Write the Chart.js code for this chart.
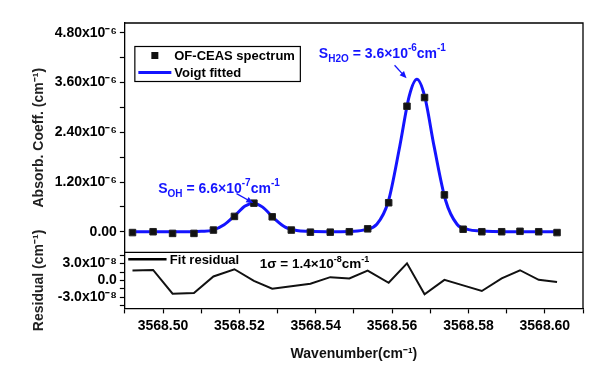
<!DOCTYPE html>
<html>
<head>
<meta charset="utf-8">
<script src="https://cdn.jsdelivr.net/npm/chart.js@4.4.1/dist/chart.umd.min.js"></script>
<style>
  html, body { margin: 0; padding: 0; background: #fff; }
  canvas { display: block; }
</style>
</head>
<body>
<canvas id="spectrumChart" width="600" height="368"></canvas>
<script>
// measured points (wavenumber in cm-1)
const wavenumbers = [3568.4920, 3568.4974, 3568.5025, 3568.5081, 3568.5132, 3568.5187, 3568.5238, 3568.5286,
  3568.5336, 3568.5386, 3568.5438, 3568.5488, 3568.5536, 3568.5591, 3568.5639, 3568.5685, 3568.5737, 3568.5786,
  3568.5835, 3568.5887, 3568.5935, 3568.5984, 3568.6032];
// OF-CEAS spectrum, absorption coeff. (cm-1)
const absorption = [-0.02e-6, 0.00e-6, -0.04e-6, -0.04e-6, 0.04e-6, 0.37e-6, 0.69e-6, 0.36e-6,
  0.04e-6, -0.01e-6, -0.01e-6, 0.00e-6, 0.07e-6, 0.70e-6, 3.03e-6, 3.24e-6, 0.89e-6, 0.06e-6,
  0.00e-6, 0.00e-6, 0.01e-6, 0.00e-6, -0.02e-6];
// fit residual (cm-1)
const residual = [1.76e-8, 1.87e-8, -2.36e-8, -2.24e-8, 0.71e-8, 2.00e-8, -0.10e-8, -1.48e-8,
  -1.06e-8, -0.60e-8, 0.58e-8, 0.35e-8, 1.76e-8, -0.42e-8, 3.05e-8, -2.47e-8, 0.10e-8, -0.88e-8,
  -1.89e-8, 0.35e-8, 1.82e-8, 0.10e-8, -0.30e-8];

// Voigt fitted curve
const fitWavenumbers = [3568.4920, 3568.5000, 3568.5080, 3568.5100, 3568.5130, 3568.5160, 3568.5190, 3568.5215,
  3568.5236, 3568.5260, 3568.5290, 3568.5320, 3568.5350, 3568.5380, 3568.5450, 3568.5500, 3568.5530, 3568.5560,
  3568.5590, 3568.5620, 3568.5645, 3568.5665, 3568.5685, 3568.5710, 3568.5740, 3568.5770, 3568.5800, 3568.5830,
  3568.5900, 3568.6032];
const fitValues = [0.00e-6, 0.00e-6, 0.00e-6, 0.01e-6, 0.04e-6, 0.17e-6, 0.41e-6, 0.62e-6,
  0.69e-6, 0.60e-6, 0.33e-6, 0.11e-6, 0.03e-6, 0.01e-6, 0.00e-6, 0.01e-6, 0.05e-6, 0.18e-6,
  0.73e-6, 2.06e-6, 3.28e-6, 3.68e-6, 3.28e-6, 2.06e-6, 0.76e-6, 0.18e-6, 0.05e-6, 0.02e-6,
  0.00e-6, 0.00e-6];

// ticks
const xTicks = [3568.49, 3568.50, 3568.51, 3568.52, 3568.53, 3568.54, 3568.55, 3568.56, 3568.57, 3568.58, 3568.59, 3568.60, 3568.61];
const xTickLabels = ['', '3568.50', '', '3568.52', '', '3568.54', '', '3568.56', '', '3568.58', '', '3568.60', ''];
const absorbTicks = [0, 0.6e-6, 1.2e-6, 1.8e-6, 2.4e-6, 3.0e-6, 3.6e-6, 4.2e-6, 4.8e-6];
const absorbTickLabels = ['0.00', '', '1.20x10⁻⁶', '', '2.40x10⁻⁶', '', '3.60x10⁻⁶', '', '4.80x10⁻⁶'];
const residualTicks = [-4.5e-8, -3.0e-8, -1.5e-8, 0, 1.5e-8, 3.0e-8, 4.5e-8];
const residualTickLabels = ['', '-3.0x10⁻⁸', '', '0.0', '', '3.0x10⁻⁸', ''];

const FONT = '"Liberation Sans", Arial, sans-serif';
const BLUE = '#1414ff';
const tickFont = { family: FONT, size: 14, weight: 'bold' };
const titleFont = { family: FONT, size: 14, weight: 'bold' };

// text with sub/superscripts: parts = [[text, 'n'|'sub'|'sup'], ...]
function richText(c, parts, x, y, color, size) {
    c.fillStyle = color;
    c.textAlign = 'left';
    c.textBaseline = 'alphabetic';
    let cx = x;
    parts.forEach(([t, mode]) => {
        const small = mode === 'sub' || mode === 'sup';
        c.font = 'bold ' + (small ? Math.round(size * 0.68) : size) + 'px ' + FONT;
        const dy = mode === 'sub' ? size * 0.3 : (mode === 'sup' ? -size * 0.45 : 0);
        c.fillText(t, cx, y + dy);
        cx += c.measureText(t).width;
    });
}

function arrow(c, x1, y1, x2, y2, color) {
    const a = Math.atan2(y2 - y1, x2 - x1);
    c.strokeStyle = color;
    c.fillStyle = color;
    c.lineWidth = 1.3;
    c.beginPath();
    c.moveTo(x1, y1);
    c.lineTo(x2 - 4 * Math.cos(a), y2 - 4 * Math.sin(a));
    c.stroke();
    c.beginPath();
    c.moveTo(x2, y2);
    c.lineTo(x2 - 7 * Math.cos(a) + 3 * Math.sin(a), y2 - 7 * Math.sin(a) - 3 * Math.cos(a));
    c.lineTo(x2 - 7 * Math.cos(a) - 3 * Math.sin(a), y2 - 7 * Math.sin(a) + 3 * Math.cos(a));
    c.closePath();
    c.fill();
}

// frame, legends and labels drawn on top of the chart
const framePlugin = {
    id: 'frame',
    afterDraw(chart) {
        const c = chart.ctx;
        const ca = chart.chartArea;
        const L = ca.left, T = ca.top;
        const sep = chart.scales.y.bottom;
        c.save();
        c.strokeStyle = '#000';
        c.lineWidth = 1.3;
        c.beginPath();
        c.moveTo(ca.left, ca.top);
        c.lineTo(ca.right, ca.top);
        c.lineTo(ca.right, ca.bottom);
        c.moveTo(ca.left, sep);
        c.lineTo(ca.right, sep);
        c.stroke();

        // top legend
        c.lineWidth = 1.2;
        c.strokeRect(L + 10, T + 23.5, 165.5, 35);
        c.fillStyle = '#111';
        c.fillRect(L + 26.5, T + 29, 7, 7);
        c.strokeStyle = BLUE;
        c.lineWidth = 3;
        c.beginPath();
        c.moveTo(L + 13.5, T + 49.6);
        c.lineTo(L + 46.5, T + 49.6);
        c.stroke();
        c.font = 'bold 13px ' + FONT;
        c.fillStyle = '#000';
        c.textBaseline = 'middle';
        c.fillText('OF-CEAS spectrum', L + 49.4, T + 33);
        c.fillText('Voigt fitted', L + 49.4, T + 50);

        // residual legend
        c.strokeStyle = '#000';
        c.lineWidth = 2.5;
        c.beginPath();
        c.moveTo(L + 3.4, sep + 6.7);
        c.lineTo(L + 41.7, sep + 6.7);
        c.stroke();
        c.fillStyle = '#000';
        c.fillText('Fit residual', L + 45, sep + 7.5);

        // annotations
        richText(c, [['S', 'n'], ['OH', 'sub'], [' = 6.6×10', 'n'], ['-7', 'sup'], ['cm', 'n'], ['-1', 'sup']],
            L + 33.4, T + 169.6, BLUE, 14);
        arrow(c, L + 111.7, T + 170.6, L + 128.4, T + 180, BLUE);
        richText(c, [['S', 'n'], ['H2O', 'sub'], [' = 3.6×10', 'n'], ['-6', 'sup'], ['cm', 'n'], ['-1', 'sup']],
            L + 194, T + 34.6, BLUE, 14);
        arrow(c, L + 269.7, T + 42.3, L + 281.7, T + 55.3, BLUE);
        richText(c, [['1σ = 1.4×10', 'n'], ['-8', 'sup'], ['cm', 'n'], ['-1', 'sup']],
            L + 135, sep + 15.3, '#000', 13.5);
        c.restore();
    }
};

const axisGrid = { drawOnChartArea: false, tickLength: 5, tickColor: '#000', tickWidth: 1.2 };
const axisBorder = { color: '#000', width: 1.3 };

const spectrumCtx = document.getElementById('spectrumChart').getContext('2d');
const spectrumChart = new Chart(spectrumCtx, {
    type: 'scatter',
    data: {
        datasets: [{
            label: 'OF-CEAS spectrum',
            data: wavenumbers.map((x, i) => ({ x: x, y: absorption[i] })),
            yAxisID: 'y',
            showLine: false,
            pointStyle: 'rect',
            pointRadius: 4.6,
            backgroundColor: '#111',
            borderColor: '#222',
            borderWidth: 1
        }, {
            label: 'Voigt fitted',
            data: fitWavenumbers.map((x, i) => ({ x: x, y: fitValues[i] })),
            yAxisID: 'y',
            showLine: true,
            borderColor: BLUE,
            borderWidth: 3,
            pointRadius: 0,
            cubicInterpolationMode: 'monotone'
        }, {
            label: 'Fit residual',
            data: wavenumbers.map((x, i) => ({ x: x, y: residual[i] })),
            yAxisID: 'y2',
            showLine: true,
            borderColor: '#111',
            borderWidth: 2,
            pointRadius: 0
        }]
    },
    options: {
        responsive: false,
        animation: false,
        devicePixelRatio: 1,
        layout: { padding: { left: 27, top: 23, right: 17, bottom: 1 } },
        plugins: {
            legend: { display: false },
            tooltip: { enabled: false }
        },
        scales: {
            x: {
                type: 'linear',
                min: 3568.49,
                max: 3568.61,
                afterBuildTicks: s => { s.ticks = xTicks.map(v => ({ value: v })); },
                ticks: {
                    callback: (v, i) => xTickLabels[i],
                    autoSkip: false,
                    maxRotation: 0,
                    color: '#000',
                    font: tickFont,
                    padding: 4
                },
                grid: axisGrid,
                border: axisBorder,
                title: {
                    display: true,
                    text: 'Wavenumber(cm⁻¹)',
                    color: '#111',
                    font: titleFont,
                    padding: { top: 8, bottom: 4 }
                }
            },
            // residual panel (listed first so it lands at the bottom of the stack)
            y2: {
                type: 'linear',
                position: 'left',
                stack: 'panels',
                stackWeight: 1,
                min: -5e-8,
                max: 5e-8,
                afterBuildTicks: s => { s.ticks = residualTicks.map(v => ({ value: v })); },
                ticks: {
                    callback: (v, i) => residualTickLabels[i],
                    autoSkip: false,
                    color: '#000',
                    font: tickFont,
                    padding: 3
                },
                grid: axisGrid,
                border: axisBorder,
                title: {
                    display: true,
                    text: 'Residual (cm⁻¹)',
                    color: '#222',
                    font: titleFont,
                    padding: { top: 4, bottom: 4 }
                }
            },
            y: {
                type: 'linear',
                position: 'left',
                stack: 'panels',
                stackWeight: 4.1,
                min: -0.5e-6,
                max: 5.04e-6,
                afterBuildTicks: s => { s.ticks = absorbTicks.map(v => ({ value: v })); },
                ticks: {
                    callback: (v, i) => absorbTickLabels[i],
                    autoSkip: false,
                    color: '#000',
                    font: tickFont,
                    padding: 3
                },
                grid: axisGrid,
                border: axisBorder,
                title: {
                    display: true,
                    text: 'Absorb. Coeff. (cm⁻¹)',
                    color: '#222',
                    font: titleFont,
                    padding: { top: 4, bottom: 4 }
                }
            }
        }
    },
    plugins: [framePlugin]
});
</script>
</body>
</html>
